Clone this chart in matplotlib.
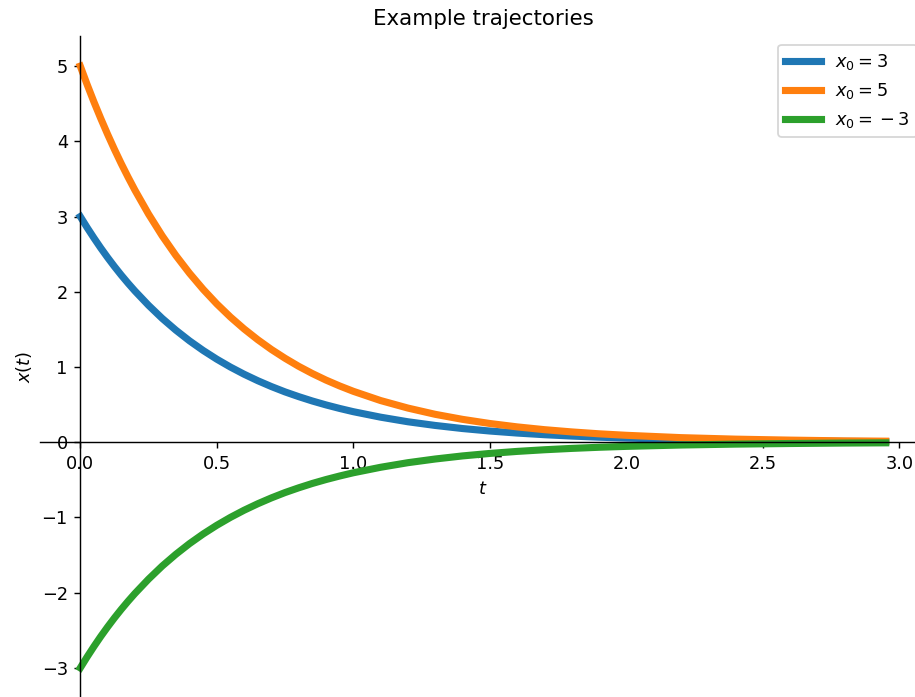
import matplotlib
matplotlib.use("Agg")
import matplotlib.pyplot as plt

t = [0.000, 0.025, 0.050, 0.075, 0.100, 0.125, 0.150, 0.175, 0.200, 0.250,
     0.300, 0.350, 0.400, 0.450, 0.500, 0.550, 0.600, 0.650, 0.700, 0.750,
     0.800, 0.850, 0.900, 0.950, 1.000, 1.100, 1.200, 1.300, 1.400, 1.500,
     1.600, 1.700, 1.800, 1.900, 2.000, 2.200, 2.400, 2.600, 2.800, 2.950]

x_blue = [3.000, 2.854, 2.715, 2.582, 2.456, 2.336, 2.222, 2.114, 2.011, 1.820,
          1.646, 1.490, 1.348, 1.220, 1.104, 0.999, 0.904, 0.818, 0.740, 0.669,
          0.606, 0.548, 0.496, 0.449, 0.406, 0.333, 0.272, 0.223, 0.182, 0.149,
          0.122, 0.100, 0.082, 0.067, 0.055, 0.037, 0.025, 0.017, 0.011, 0.008]

x_orange = [5.000, 4.756, 4.524, 4.304, 4.094, 3.894, 3.704, 3.524, 3.352, 3.033,
            2.744, 2.483, 2.247, 2.033, 1.839, 1.664, 1.506, 1.363, 1.233, 1.116,
            1.009, 0.913, 0.826, 0.748, 0.677, 0.554, 0.454, 0.371, 0.304, 0.249,
            0.204, 0.167, 0.137, 0.112, 0.092, 0.061, 0.041, 0.028, 0.018, 0.014]

x_green = [-3.000, -2.854, -2.715, -2.582, -2.456, -2.336, -2.222, -2.114, -2.011, -1.820,
           -1.646, -1.490, -1.348, -1.220, -1.104, -0.999, -0.904, -0.818, -0.740, -0.669,
           -0.606, -0.548, -0.496, -0.449, -0.406, -0.333, -0.272, -0.223, -0.182, -0.149,
           -0.122, -0.100, -0.082, -0.067, -0.055, -0.037, -0.025, -0.017, -0.011, -0.008]

labels = [r'$x_0 = 3$', r'$x_0 = 5$', r'$x_0 = {}- 3$']
colors = ['#1f77b4', '#ff7f0e', '#2ca02c']

DPI = 128
fig = plt.figure(figsize=(915 / DPI, 697 / DPI), dpi=DPI)
ax = fig.add_axes([40/915, -1/697, 886/915, 662/697])

for y, lab, c in zip([x_blue, x_orange, x_green], labels, colors):
    ax.plot(t, y, lw=4, color=c, label=lab)

ax.spines['left'].set_position(('data', 0))
ax.spines['bottom'].set_position(('data', 0))
ax.spines['top'].set_visible(False)
ax.spines['right'].set_visible(False)

ax.set_xticks([0.0, 0.5, 1.0, 1.5, 2.0, 2.5, 3.0])
ax.set_yticks([-3, -2, -1, 0, 1, 2, 3, 4, 5])
ax.set_xlim(-0.1475, 3.0975)
ax.set_ylim(-3.4, 5.4)

ax.set_xlabel(r'$t$')
ax.set_ylabel(r'$x(t)$')
ax.set_title('Example trajectories')
ax.legend(loc='upper right')

fig.savefig('out.png', dpi=DPI)
